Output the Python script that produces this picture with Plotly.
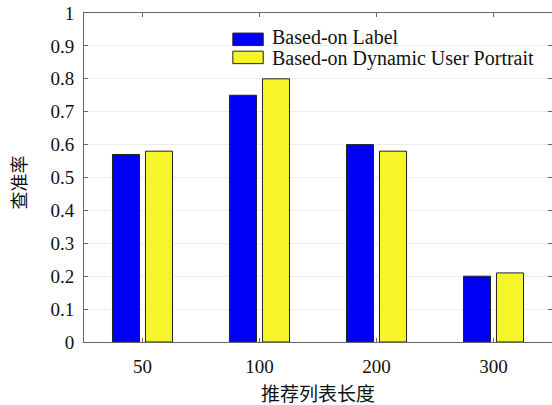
import plotly.graph_objects as go

categories = ["50", "100", "200", "300"]
label_vals = [0.57, 0.75, 0.60, 0.20]
portrait_vals = [0.58, 0.80, 0.58, 0.21]
y_ticks = [0, 0.1, 0.2, 0.3, 0.4, 0.5, 0.6, 0.7, 0.8, 0.9, 1]
y_tick_text = ["0", "0.1", "0.2", "0.3", "0.4", "0.5", "0.6", "0.7", "0.8", "0.9", "1"]
series_names = ["Based-on Label", "Based-on Dynamic User Portrait"]
series_colors = ["#0000F5", "#F5F52A"]

serif = "Liberation Serif"
cjk = "Noto Sans CJK SC"

fig = go.Figure()
for vals, name, col in zip([label_vals, portrait_vals], series_names, series_colors):
    fig.add_trace(go.Bar(x=categories, y=vals, name=name, showlegend=False,
                         marker=dict(color=col, line=dict(color="#222222", width=1))))

# custom legend (wide swatches like the reference)
shapes = []
annotations = []
sw_y = [(0.939, 0.901), (0.884, 0.846)]
txt_y = [0.927, 0.862]
for i, (name, col) in enumerate(zip(series_names, series_colors)):
    shapes.append(dict(type="rect", xref="paper", yref="paper",
                       x0=0.318, x1=0.383, y0=sw_y[i][1], y1=sw_y[i][0],
                       fillcolor=col, line=dict(color="#222222", width=1)))
    annotations.append(dict(text=name, xref="paper", yref="paper", x=0.397, y=txt_y[i],
                            xanchor="left", yanchor="middle", showarrow=False,
                            font=dict(family=serif, size=20, color="#111111")))

annotations.append(dict(text="推荐列表长度", xref="paper", yref="paper", x=0.5, y=-0.152,
                        xanchor="center", yanchor="middle", showarrow=False,
                        font=dict(family=cjk, size=19, color="#111111")))
annotations.append(dict(text="查准率", xref="paper", yref="paper", x=-0.141, y=0.485,
                        xanchor="center", yanchor="middle", showarrow=False, textangle=-90,
                        font=dict(family=cjk, size=18, color="#111111")))

fig.update_layout(
    width=552, height=405,
    margin=dict(l=84, r=0, t=13, b=63, autoexpand=False),
    paper_bgcolor="white", plot_bgcolor="white",
    barmode="group", bargap=0.436, bargroupgap=0.18,
    font=dict(family=serif, size=19, color="#111111"),
    showlegend=False,
    shapes=shapes, annotations=annotations,
    xaxis=dict(
        type="category", range=[-0.5, 3.5], automargin=False,
        showline=True, linecolor="#666666", linewidth=1, mirror="ticks",
        ticks="inside", ticklen=4, tickcolor="#666666",
        showgrid=False, ticklabelstandoff=7,
        tickfont=dict(family=serif, size=19),
    ),
    yaxis=dict(
        range=[0, 1], tickvals=y_ticks, ticktext=y_tick_text, automargin=False,
        showline=True, linecolor="#666666", linewidth=1, mirror="ticks",
        ticks="inside", ticklen=4, tickcolor="#666666",
        showgrid=True, gridcolor="#EEEEEE", gridwidth=1,
        zeroline=False, ticklabelstandoff=5,
        tickfont=dict(family=serif, size=19),
    ),
)

fig.write_html("out.html", config={"displayModeBar": False},
               post_script="document.body.style.margin='0';document.body.style.overflow='hidden';")
